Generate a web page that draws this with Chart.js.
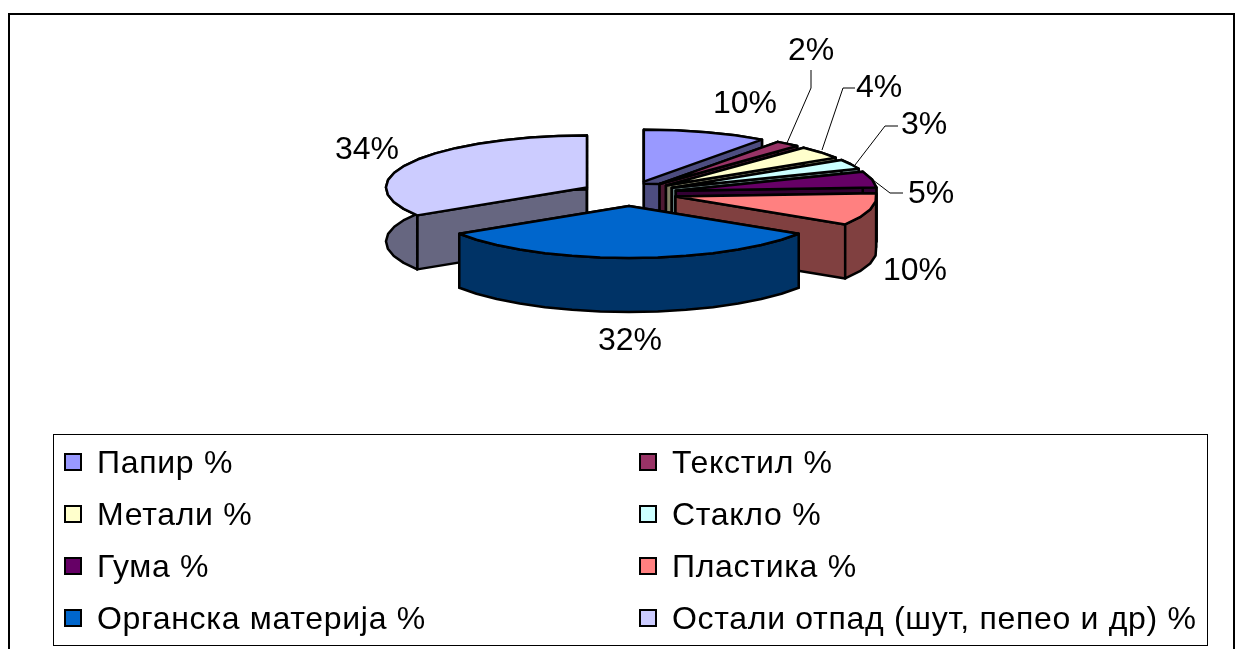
<!DOCTYPE html>
<html lang="sr">
<head>
  <meta charset="UTF-8">
  <title>Састав отпада</title>
  <style>
    body { margin: 0; background: #fff; }
    canvas { display: block; }
  </style>
</head>
<body>
<canvas id="myChart" width="1244" height="649"></canvas>

<script src="https://cdn.jsdelivr.net/npm/chart.js"></script>
<script>
  const categories = ['Папир %', 'Текстил %', 'Метали %', 'Стакло %', 'Гума %', 'Пластика %', 'Органска материја %', 'Остали отпад (шут, пепео и др) %'];
  const values = [10, 2, 4, 3, 5, 10, 32, 34];
  const colors = ['#9999FF', '#993366', '#FFFFCC', '#CCFFFF', '#660066', '#FF8080', '#0066CC', '#CCCCFF'];

  // tilt of the fake 3D pie
  const squash = 52 / 201;
  const pieY = 193.5;
  const depth = 54;
  const font = '32px "Liberation Sans", Arial, sans-serif';

  // label anchors, same order as the slices
  const labelPos = [[745, 104], [811, 51], [879, 88], [924, 125], [931, 194], [915, 271], [630, 341], [367, 150]];
  // leader lines for the small slices
  const leaders = {
    1: [[787, 143], [811, 88], [811, 70]],
    2: [[822, 150], [843, 88], [855, 88]],
    3: [[855, 165], [885, 126], [898, 126]],
    4: [[873, 180], [890, 193], [903, 193]]
  };

  function darker(hex) {
    const n = parseInt(hex.slice(1), 16);
    const half = v => Math.round(v / 2);
    return `rgb(${half(n >> 16 & 255)},${half(n >> 8 & 255)},${half(n & 255)})`;
  }

  function poly(ctx, pts, fill) {
    ctx.beginPath();
    pts.forEach((p, i) => i ? ctx.lineTo(p[0], p[1]) : ctx.moveTo(p[0], p[1]));
    ctx.closePath();
    ctx.fillStyle = fill;
    ctx.fill();
    ctx.stroke();
  }

  const pie3d = {
    id: 'pie3d',
    beforeDraw(chart) {
      const ctx = chart.ctx;
      ctx.save();
      ctx.strokeStyle = '#000';
      ctx.lineWidth = 2;
      ctx.beginPath();
      ctx.moveTo(9, 649);
      ctx.lineTo(9, 14);
      ctx.lineTo(1234, 14);
      ctx.lineTo(1234, 649);
      ctx.stroke();
      ctx.restore();
    },
    beforeDatasetsDraw(chart) {
      const ctx = chart.ctx;
      const arcs = chart.getDatasetMeta(0).data;
      const slices = arcs.map((arc, i) => {
        const { x, startAngle, endAngle, outerRadius } = arc.getProps(['x', 'startAngle', 'endAngle', 'outerRadius'], true);
        const mid = (startAngle + endAngle) / 2;
        const off = arc.options.offset;
        const px = a => x + Math.cos(mid) * off + Math.cos(a) * outerRadius;
        const py = a => pieY + (Math.sin(mid) * off + Math.sin(a) * outerRadius) * squash;
        const apex = [x + Math.cos(mid) * off, pieY + Math.sin(mid) * off * squash];
        const rim = [];
        const steps = Math.max(2, Math.round((endAngle - startAngle) / 0.14));
        for (let s = 0; s <= steps; s++) {
          const a = startAngle + (endAngle - startAngle) * s / steps;
          rim.push([px(a), py(a)]);
        }
        return { i, mid, apex, rim, color: colors[i] };
      });

      ctx.save();
      ctx.lineJoin = 'round';
      ctx.strokeStyle = '#000';
      ctx.lineWidth = 2.5;
      slices.sort((a, b) => Math.sin(a.mid) - Math.sin(b.mid)).forEach(s => {
        const side = darker(s.color);
        const down = p => [p[0], p[1] + depth];
        const first = s.rim[0];
        const last = s.rim[s.rim.length - 1];
        poly(ctx, [s.apex, first, down(first), down(s.apex)], side);
        poly(ctx, [s.apex, last, down(last), down(s.apex)], side);
        poly(ctx, s.rim.concat(s.rim.slice().reverse().map(down)), side);
        poly(ctx, [s.apex].concat(s.rim), s.color);
      });
      ctx.restore();
      return false;
    },
    afterDraw(chart) {
      const ctx = chart.ctx;
      ctx.save();
      const total = values.reduce((a, b) => a + b, 0);

      // leader lines
      ctx.strokeStyle = '#000';
      ctx.lineWidth = 1;
      Object.values(leaders).forEach(line => {
        ctx.beginPath();
        line.forEach((p, i) => i ? ctx.lineTo(p[0], p[1]) : ctx.moveTo(p[0], p[1]));
        ctx.stroke();
      });

      // percent labels
      ctx.fillStyle = '#000';
      ctx.font = font;
      ctx.textAlign = 'center';
      ctx.textBaseline = 'middle';
      values.forEach((v, i) => {
        ctx.fillText(Math.round(v / total * 100) + '%', labelPos[i][0], labelPos[i][1]);
      });

      // legend box, two columns
      ctx.strokeStyle = '#000';
      ctx.lineWidth = 1;
      ctx.strokeRect(53.5, 434.5, 1154, 211);
      ctx.textAlign = 'left';
      ctx.letterSpacing = '0.7px';
      categories.forEach((name, i) => {
        const col = i % 2 ? 639 : 64;
        const row = 462 + 52 * Math.floor(i / 2);
        ctx.lineWidth = 2;
        ctx.fillStyle = colors[i];
        ctx.fillRect(col + 1, row - 8, 16, 16);
        ctx.strokeRect(col + 1, row - 8, 16, 16);
        ctx.fillStyle = '#000';
        ctx.fillText(name, col + 33, row + 2);
      });
      ctx.restore();
    }
  };

  new Chart(document.getElementById('myChart'), {
    type: 'pie',
    data: {
      labels: categories,
      datasets: [{
        data: values,
        backgroundColor: colors,
        borderWidth: 0,
        offset: 48
      }]
    },
    options: {
      responsive: false,
      animation: false,
      layout: { padding: { left: 14, right: 0, top: 99, bottom: 100 } },
      plugins: {
        legend: { display: false },
        tooltip: { enabled: false }
      }
    },
    plugins: [pie3d]
  });
</script>
</body>
</html>
